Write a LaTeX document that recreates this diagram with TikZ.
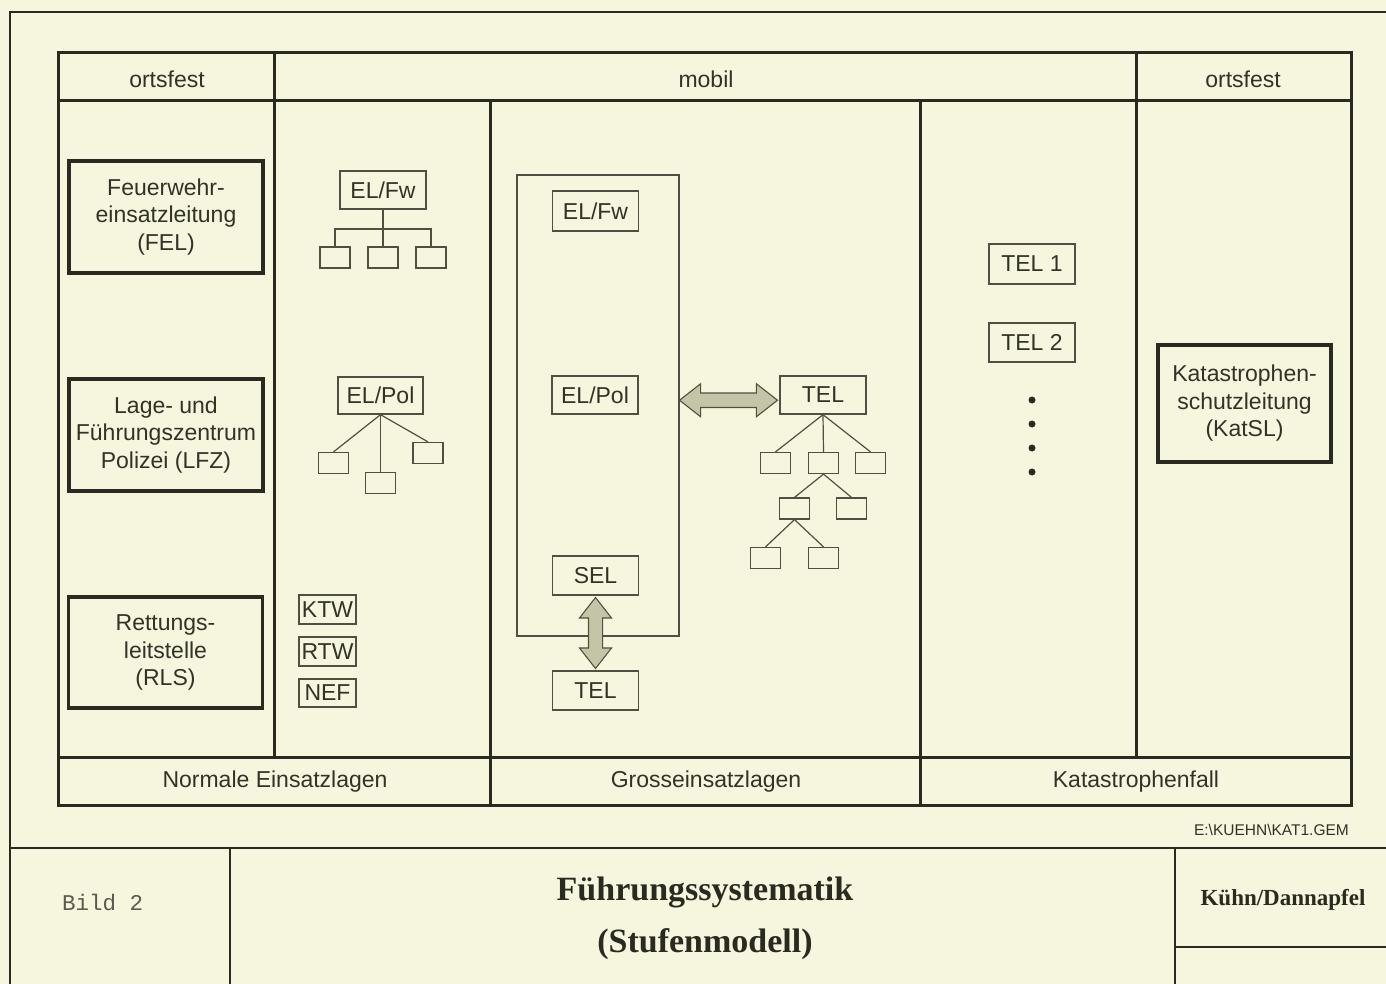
\documentclass[tikz,border=0pt]{standalone}
\usepackage{fontspec}
\setmainfont{Liberation Sans}
\newfontfamily\titleserif{Liberation Serif}
\newfontfamily\monofam{Liberation Mono}
\usetikzlibrary{shapes.arrows,calc}
\definecolor{bgcol}{RGB}{246,245,221}
\definecolor{ink}{RGB}{42,42,32}
\definecolor{thinink}{RGB}{80,80,66}
\definecolor{txt}{RGB}{50,50,40}
\definecolor{monotxt}{RGB}{90,90,78}
\definecolor{arrowfill}{RGB}{196,196,166}
\begin{document}
\begin{tikzpicture}[x=1pt,y=-1pt,
  every node/.style={text=txt, font=\fontsize{23}{27.5}\selectfont, inner sep=0pt},
  tableline/.style={draw=ink, line width=3pt},
  frameline/.style={draw=ink, line width=1.8pt},
  thickbox/.style={draw=ink, line width=3.4pt, align=center, minimum width=194pt, minimum height=112pt},
  thinbox/.style={draw=thinink, line width=1.3pt, minimum width=86pt, minimum height=38pt},
  vehbox/.style={draw=thinink, line width=1.3pt, minimum width=57pt, minimum height=29pt},
  leaf/.style={draw=thinink, line width=1.2pt, minimum width=30pt, minimum height=21pt},
  treeline/.style={draw=thinink, line width=1.2pt},
  dot/.style={circle, fill=ink, minimum size=7pt},
  dblarrow/.style={double arrow, draw=thinink, line width=1.1pt, fill=arrowfill,
     inner sep=6.5pt, double arrow head extend=9pt, double arrow tip angle=76},
]
% background and page size
\fill[bgcol] (0,0) rectangle (1386,984);
\useasboundingbox (0,0) rectangle (1386,984);

% page frame and title block
\draw[frameline] (10,984) -- (10,12) -- (1386,12);
\draw[frameline] (10,848) -- (1386,848);
\draw[frameline] (230,848) -- (230,984);
\draw[frameline] (1175,848) -- (1175,984);
\draw[frameline] (1175,947) -- (1386,947);

% main table
\draw[tableline] (58,53) rectangle (1351,805);
\draw[tableline] (58,101) -- (1351,101);
\draw[tableline] (58,757) -- (1351,757);
\draw[tableline] (274,53) -- (274,757);
\draw[tableline] (1136,53) -- (1136,757);
\draw[tableline] (490,101) -- (490,805);
\draw[tableline] (920,101) -- (920,805);

% header and footer texts
\node (h1) at (167,79) {ortsfest};
\node (h2) at (706,79) {mobil};
\node (h3) at (1243,79) {ortsfest};
\node (f1) at (275,782) {Normale Einsatzlagen};
\node (f2) at (706,782) {Grosseinsatzlagen};
\node (f3) at (1136,782) {Katastrophenfall};

% column 1: stationary control centres
\node[thickbox] (fel) at (166,217) {Feuerwehr-\\einsatzleitung\\(FEL)};
\node[thickbox] (lfz) at (166,435) {Lage- und\\F\"uhrungszentrum\\Polizei (LFZ)};
\node[thickbox, minimum height=111pt] (rls) at (165.5,652.5) {Rettungs-\\leitstelle\\(RLS)};

% column 2: normal operations
\node[thinbox] (elfwA) at (383,190) {EL/Fw};
\node[leaf] (fwa) at (335,257.5) {};
\node[leaf] (fwb) at (383,257.5) {};
\node[leaf] (fwc) at (431,257.5) {};
\coordinate (fwj) at (383,229);
\draw[treeline] (elfwA.south) -- (fwj) -- (fwb.north);
\draw[treeline] (fwa.north) -- (fwa.north |- fwj) -- (fwc.north |- fwj) -- (fwc.north);

\node[thinbox, minimum width=85pt, minimum height=37pt] (elpolA) at (380.5,395.5) {EL/Pol};
\node[leaf] (pola) at (333.5,463) {};
\node[leaf] (polb) at (380.5,483) {};
\node[leaf] (polc) at (428,453) {};
\draw[treeline] (elpolA.south) -- (pola.north);
\draw[treeline] (elpolA.south) -- (polb.north);
\draw[treeline] (elpolA.south) -- (polc.north);

\node[vehbox] (ktw) at (327.5,609.5) {KTW};
\node[vehbox] (rtw) at (327.5,651.5) {RTW};
\node[vehbox, minimum height=28pt] (nef) at (327.5,693) {NEF};

% column 3: major incidents
\node[draw=thinink, line width=1.3pt, minimum width=162pt, minimum height=461pt] (bigbox) at (598,405.5) {};
\node[thinbox, minimum height=40pt] (elfwB) at (595.5,211) {EL/Fw};
\node[thinbox] (elpolB) at (595,395) {EL/Pol};
\node[thinbox, minimum height=39pt] (sel) at (595.5,575.5) {SEL};
\node[thinbox, minimum height=39pt] (telB) at (595.5,690.5) {TEL};
\node[dblarrow, rotate=90, minimum height=71pt, minimum width=30pt] (varrow) at ($(sel.south)!0.5!(telB.north)$) {};

\node[thinbox] (telC) at (823,395) {TEL};
\node[dblarrow, minimum height=98pt, minimum width=33pt] (harrow) at ($(bigbox.east)!0.5!(telC.west)+(-1,0)$) {};
\node[leaf] (ta) at (775.5,463) {};
\node[leaf] (tb) at (823.5,463) {};
\node[leaf] (tc) at (870.5,463) {};
\node[leaf] (td) at (794.5,508.5) {};
\node[leaf] (te) at (851.5,508.5) {};
\node[leaf] (tf) at (765.5,558) {};
\node[leaf] (tg) at (823.5,558) {};
\draw[treeline] (telC.south) -- (ta.north);
\draw[treeline] (telC.south) -- (tb.north);
\draw[treeline] (telC.south) -- (tc.north);
\draw[treeline] (tb.south) -- (td.north);
\draw[treeline] (tb.south) -- (te.north);
\draw[treeline] (td.south) -- (tf.north);
\draw[treeline] (td.south) -- (tg.north);

% column 4: disaster
\node[thinbox, minimum height=40pt] (tel1) at (1032,264) {TEL 1};
\node[thinbox, minimum height=39pt] (tel2) at (1032,342.5) {TEL 2};
\node[dot] (d1) at (1032,400) {};
\node[dot] (d2) at (1032,424) {};
\node[dot] (d3) at (1032,448) {};
\node[dot] (d4) at (1032,472) {};

% column 5
\node[thickbox, minimum width=173pt, minimum height=117pt] (katsl) at (1244.5,403.5) {Katastrophen-\\schutzleitung\\(KatSL)};

% file name
\node[anchor=east, font=\fontsize{15.5}{17}\selectfont] (file) at (1349,830) {E:\textbackslash KUEHN\textbackslash KAT1.GEM};

% title block texts
\node[anchor=west, text=monotxt, font=\monofam\fontsize{22.5}{26}\selectfont] (bild) at (62,902) {Bild 2};
\node[font=\titleserif\bfseries\fontsize{34}{40}\selectfont, text=ink] (title1) at (705,892) {F\"uhrungssystematik};
\node[font=\titleserif\bfseries\fontsize{34}{40}\selectfont, text=ink] (title2) at (705,944) {(Stufenmodell)};
\node[font=\titleserif\bfseries\fontsize{23}{27}\selectfont, text=ink] (author) at (1283,900) {K\"uhn/Dannapfel};
\end{tikzpicture}
\end{document}
